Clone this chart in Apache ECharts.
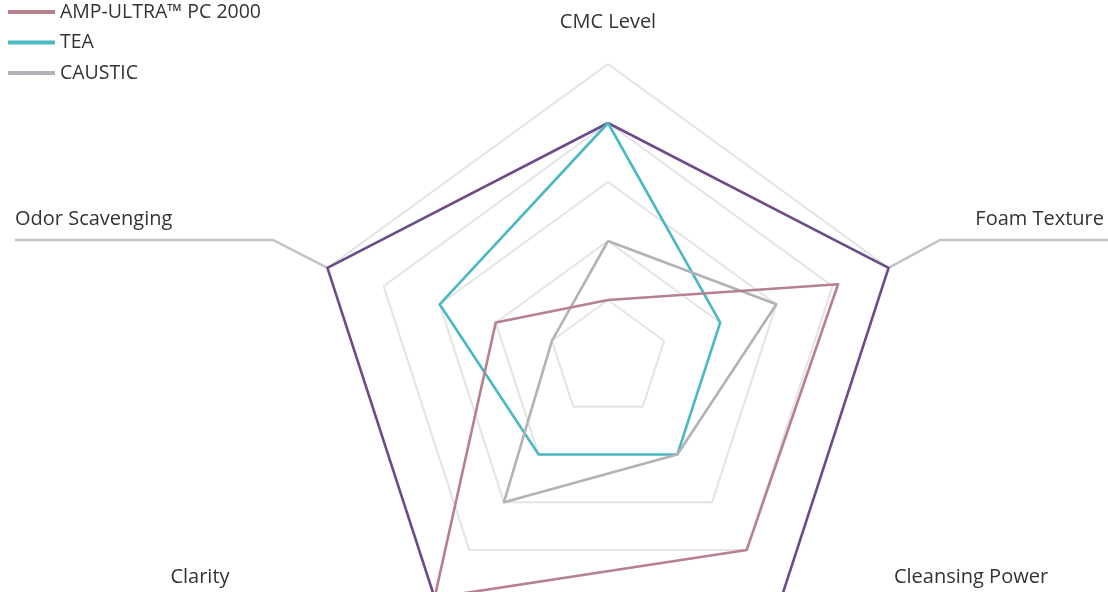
<!DOCTYPE html>
<html><head><meta charset="utf-8">
<script src="https://cdn.jsdelivr.net/npm/echarts@6/dist/echarts.min.js"></script>
<style>html,body{margin:0;padding:0;background:#fff}#c{width:1108px;height:592px}</style>
</head><body><div id="c"></div>
<script>
// Indicators in ECharts radar order (top, then counter-clockwise)
const indicators = ['CMC Level', 'Odor Scavenging', 'Clarity', 'Cleansing Power', 'Foam Texture'];
const maxValue = 5;
const seriesNames = ['AMP-ULTRA\u2122 PC 2000', 'TEA', 'CAUSTIC'];
const ampUltra = [1, 2, 5, 4, 4.1];
const tea = [4, 3, 2, 2, 2];
const caustic = [2, 1, 3, 2, 3];
const outline = [4, 5, 5, 5, 5];

const colors = { amp: '#b6818d', tea: '#4ab8c1', caustic: '#b2b2b8', outline: '#6c4b89' };
const cx = 608, cy = 359, R = 295;
const FONT = '"Open Sans", "Noto Sans", sans-serif';

function vertex(i) {
  const a = (90 + i * 72) * Math.PI / 180;
  return [cx + R * Math.cos(a), cy - R * Math.sin(a)];
}
const vOdor = vertex(1), vFoam = vertex(4);

const chart = echarts.init(document.getElementById('c'));
const lineItem = (name, value, color) => ({
  name, value,
  itemStyle: { color },
  lineStyle: { color, width: 2.6 }
});
const label = (text, x, y, align) => ({
  type: 'text', x, y, silent: true,
  style: { text, fill: '#333', font: '20px ' + FONT, align, verticalAlign: 'middle' }
});

chart.setOption({
  backgroundColor: '#fff',
  animation: false,
  legend: {
    orient: 'vertical', left: 3, top: -3,
    data: seriesNames,
    icon: 'rect', itemWidth: 47, itemHeight: 4, itemGap: 10.5,
    textStyle: { color: '#333', fontSize: 19.5, fontFamily: FONT, padding: [0, 0, 0, 0], lineHeight: 20 }
  },
  radar: {
    center: [cx, cy], radius: R, startAngle: 90, splitNumber: 5, shape: 'polygon',
    indicator: indicators.map(n => ({ name: n, max: maxValue, min: 0 })),
    axisName: { show: false },
    axisLine: { show: false },
    axisTick: { show: false },
    axisLabel: { show: false },
    splitArea: { show: false },
    splitLine: { lineStyle: { color: '#e4e4e4', width: 2 } }
  },
  series: [{
    type: 'radar', symbol: 'none', silent: true,
    data: [
      lineItem('Outline', outline, colors.outline),
      lineItem(seriesNames[1], tea, colors.tea),
      lineItem(seriesNames[2], caustic, colors.caustic),
      lineItem(seriesNames[0], ampUltra, colors.amp)
    ]
  }],
  graphic: [
    { type: 'polyline', silent: true, z: -1, shape: { points: [[15, 240], [273, 240], vOdor] }, style: { stroke: '#c3c3c7', lineWidth: 2.5, fill: null } },
    { type: 'polyline', silent: true, z: -1, shape: { points: [vFoam, [940, 240], [1108, 240]] }, style: { stroke: '#c3c3c7', lineWidth: 2.5, fill: null } },
    label(indicators[0], 608, 22, 'center'),
    label(indicators[1], 15, 219, 'left'),
    label(indicators[2], 200, 577, 'center'),
    label(indicators[3], 971, 577, 'center'),
    label(indicators[4], 1104, 219, 'right')
  ]
});
</script></body></html>
